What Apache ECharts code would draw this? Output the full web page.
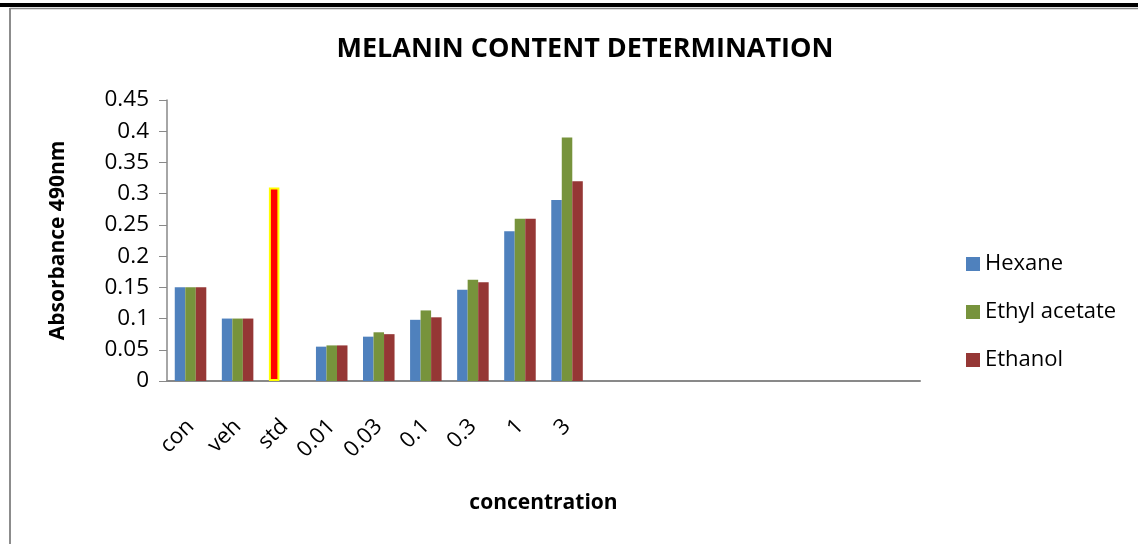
<!DOCTYPE html>
<html>
<head>
<meta charset="utf-8">
<script src="https://cdn.jsdelivr.net/npm/echarts@6/dist/echarts.min.js"></script>
<style>
  html, body { margin: 0; padding: 0; background: #fff; }
  #chart { width: 1138px; height: 544px; }
</style>
</head>
<body>
<div id="chart"></div>
<script>
// Category labels (trailing blanks keep the empty slots on the axis)
const categories = ['con', 'veh', 'std', '0.01', '0.03', '0.1', '0.3', '1', '3', '', '', '', '', '', '', ''];
const seriesNames = ['Hexane', 'Ethyl acetate', 'Ethanol'];
const hexane = [0.15, 0.10, 0.31, 0.055, 0.071, 0.098, 0.146, 0.24, 0.29];
const ethylAcetate = [0.15, 0.10, null, 0.057, 0.078, 0.113, 0.162, 0.26, 0.39];
const ethanol = [0.15, 0.10, null, 0.057, 0.075, 0.102, 0.158, 0.26, 0.32];
const stdIndex = 2; // the standard is drawn as a single highlighted bar
const yTicks = { min: 0, max: 0.45, interval: 0.05 };

const colors = ['#4F81BD', '#77933C', '#953735'];
const font = '"Open Sans", "Liberation Sans", sans-serif';

const hexData = hexane.map((v, i) => i === stdIndex
  ? { value: v, itemStyle: { color: '#FF0000', borderColor: '#FFFF00', borderWidth: 2 } }
  : v);

const chart = echarts.init(document.getElementById('chart'), null, { renderer: 'canvas' });
chart.setOption({
  animation: false,
  backgroundColor: '#fff',
  color: colors,
  title: {
    text: 'MELANIN CONTENT DETERMINATION',
    left: 580, top: 31, textAlign: 'center',
    textStyle: { fontFamily: font, fontWeight: 'bold', fontSize: 27, color: '#000' }
  },
  legend: {
    orient: 'vertical', left: 961, top: 248, itemGap: 26,
    itemWidth: 14, itemHeight: 14, icon: 'rect',
    textStyle: { fontFamily: font, fontSize: 22, color: '#000' },
    data: seriesNames
  },
  grid: { left: 167, right: 218, top: 100, bottom: 163 },
  xAxis: {
    type: 'category', data: categories,
    name: 'concentration', nameLocation: 'middle', nameGap: 112,
    nameTextStyle: { fontFamily: font, fontWeight: 'bold', fontSize: 21, color: '#000' },
    axisLine: { lineStyle: { color: '#898989', width: 2 } },
    axisTick: { show: false },
    axisLabel: { interval: 0, rotate: 45, margin: 42, fontFamily: font, fontSize: 22, color: '#000' }
  },
  yAxis: {
    type: 'value', min: yTicks.min, max: yTicks.max, interval: yTicks.interval,
    name: 'Absorbance 490nm', nameLocation: 'middle', nameGap: 98, nameRotate: 90,
    nameTextStyle: { fontFamily: font, fontWeight: 'bold', fontSize: 21, color: '#000' },
    axisLine: { show: true, lineStyle: { color: '#898989', width: 1.5 } },
    axisTick: { show: true, length: 8, lineStyle: { color: '#898989' } },
    splitLine: { show: false },
    axisLabel: {
      margin: 18, fontFamily: font, fontSize: 22.5, color: '#000',
      formatter: v => String(Math.round(v * 100) / 100)
    }
  },
  series: [
    { name: seriesNames[0], type: 'bar', data: hexData, barGap: '0%', barCategoryGap: '33%' },
    { name: seriesNames[1], type: 'bar', data: ethylAcetate },
    { name: seriesNames[2], type: 'bar', data: ethanol }
  ],
  graphic: [
    { type: 'rect', shape: { x: 0, y: 3, width: 1138, height: 4 }, style: { fill: '#000' }, silent: true },
    { type: 'line', shape: { x1: 10, y1: 8.5, x2: 1138, y2: 8.5 }, style: { stroke: '#8c8c8c', lineWidth: 1.5 }, silent: true },
    { type: 'line', shape: { x1: 10, y1: 8, x2: 10, y2: 544 }, style: { stroke: '#8c8c8c', lineWidth: 2 }, silent: true }
  ]
});
</script>
</body>
</html>
